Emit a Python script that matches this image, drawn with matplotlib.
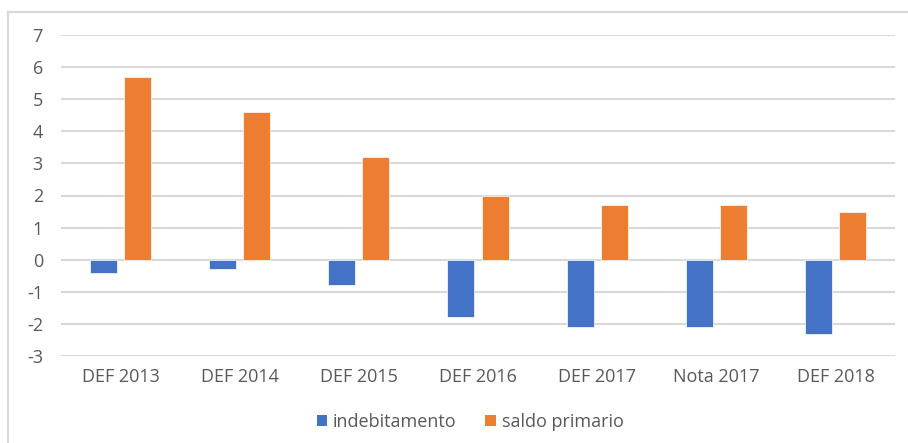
import matplotlib
matplotlib.use("Agg")
import matplotlib.pyplot as plt
from matplotlib.lines import Line2D
from matplotlib.patches import Patch
import numpy as np

categories = ["DEF 2013", "DEF 2014", "DEF 2015", "DEF 2016", "DEF 2017", "Nota 2017", "DEF 2018"]
indebitamento = [-0.4, -0.3, -0.8, -1.8, -2.1, -2.1, -2.3]
saldo_primario = [5.7, 4.6, 3.2, 2.0, 1.7, 1.7, 1.5]
yticks = [-3, -2, -1, 0, 1, 2, 3, 4, 5, 6, 7]

W, H = 908, 443
fig = plt.figure(figsize=(W / 100, H / 100), dpi=100)
plt.rcParams['font.family'] = ['Open Sans', 'DejaVu Sans']

left, right = 61 / W, 895 / W
top, bottom = 1 - 35 / H, 1 - 356 / H
ax = fig.add_axes([left, bottom, right - left, top - bottom])

blue = "#4472C4"
orange = "#ED7D31"
text_color = "#595959"
grid_color = "#D9D9D9"
fs = 13

x = np.arange(len(categories))
bw = 0.227
off = 0.143
ax.bar(x - off, indebitamento, bw, color=blue, edgecolor="white", linewidth=0.5, zorder=3)
ax.bar(x + off, saldo_primario, bw, color=orange, edgecolor="white", linewidth=0.5, zorder=3)

ax.set_xlim(-0.5, len(categories) - 0.5)
ax.set_ylim(-3, 7)
ax.set_yticks(yticks)
ax.set_yticklabels([str(v) for v in yticks])
ax.set_xticks(x)
ax.set_xticklabels(categories)
ax.yaxis.grid(True, color=grid_color, linewidth=1.5, zorder=0)
ax.set_axisbelow(True)
for s in ax.spines.values():
    s.set_visible(False)
ax.tick_params(axis='both', length=0, colors=text_color, labelsize=fs)
ax.tick_params(axis='y', pad=13)
ax.tick_params(axis='x', pad=9)
for lbl in ax.get_yticklabels():
    lbl.set_horizontalalignment('right')

handles = [Patch(facecolor=blue, label="indebitamento"),
           Patch(facecolor=orange, label="saldo primario")]
fig.legend(handles=handles, loc='center', bbox_to_anchor=(470 / W, 1 - 422 / H),
           ncol=2, frameon=False, fontsize=fs, handlelength=0.6, handleheight=0.6,
           handletextpad=0.3, columnspacing=1.6, labelcolor=text_color)

# chart frame (light gray border)
fig.add_artist(Line2D([8 / W, 1.0], [1 - 12 / H, 1 - 12 / H], transform=fig.transFigure,
                      color=grid_color, linewidth=1.5))
fig.add_artist(Line2D([8 / W, 8 / W], [0, 1 - 12 / H], transform=fig.transFigure,
                      color=grid_color, linewidth=1.5))

fig.savefig("out.png", dpi=100)
